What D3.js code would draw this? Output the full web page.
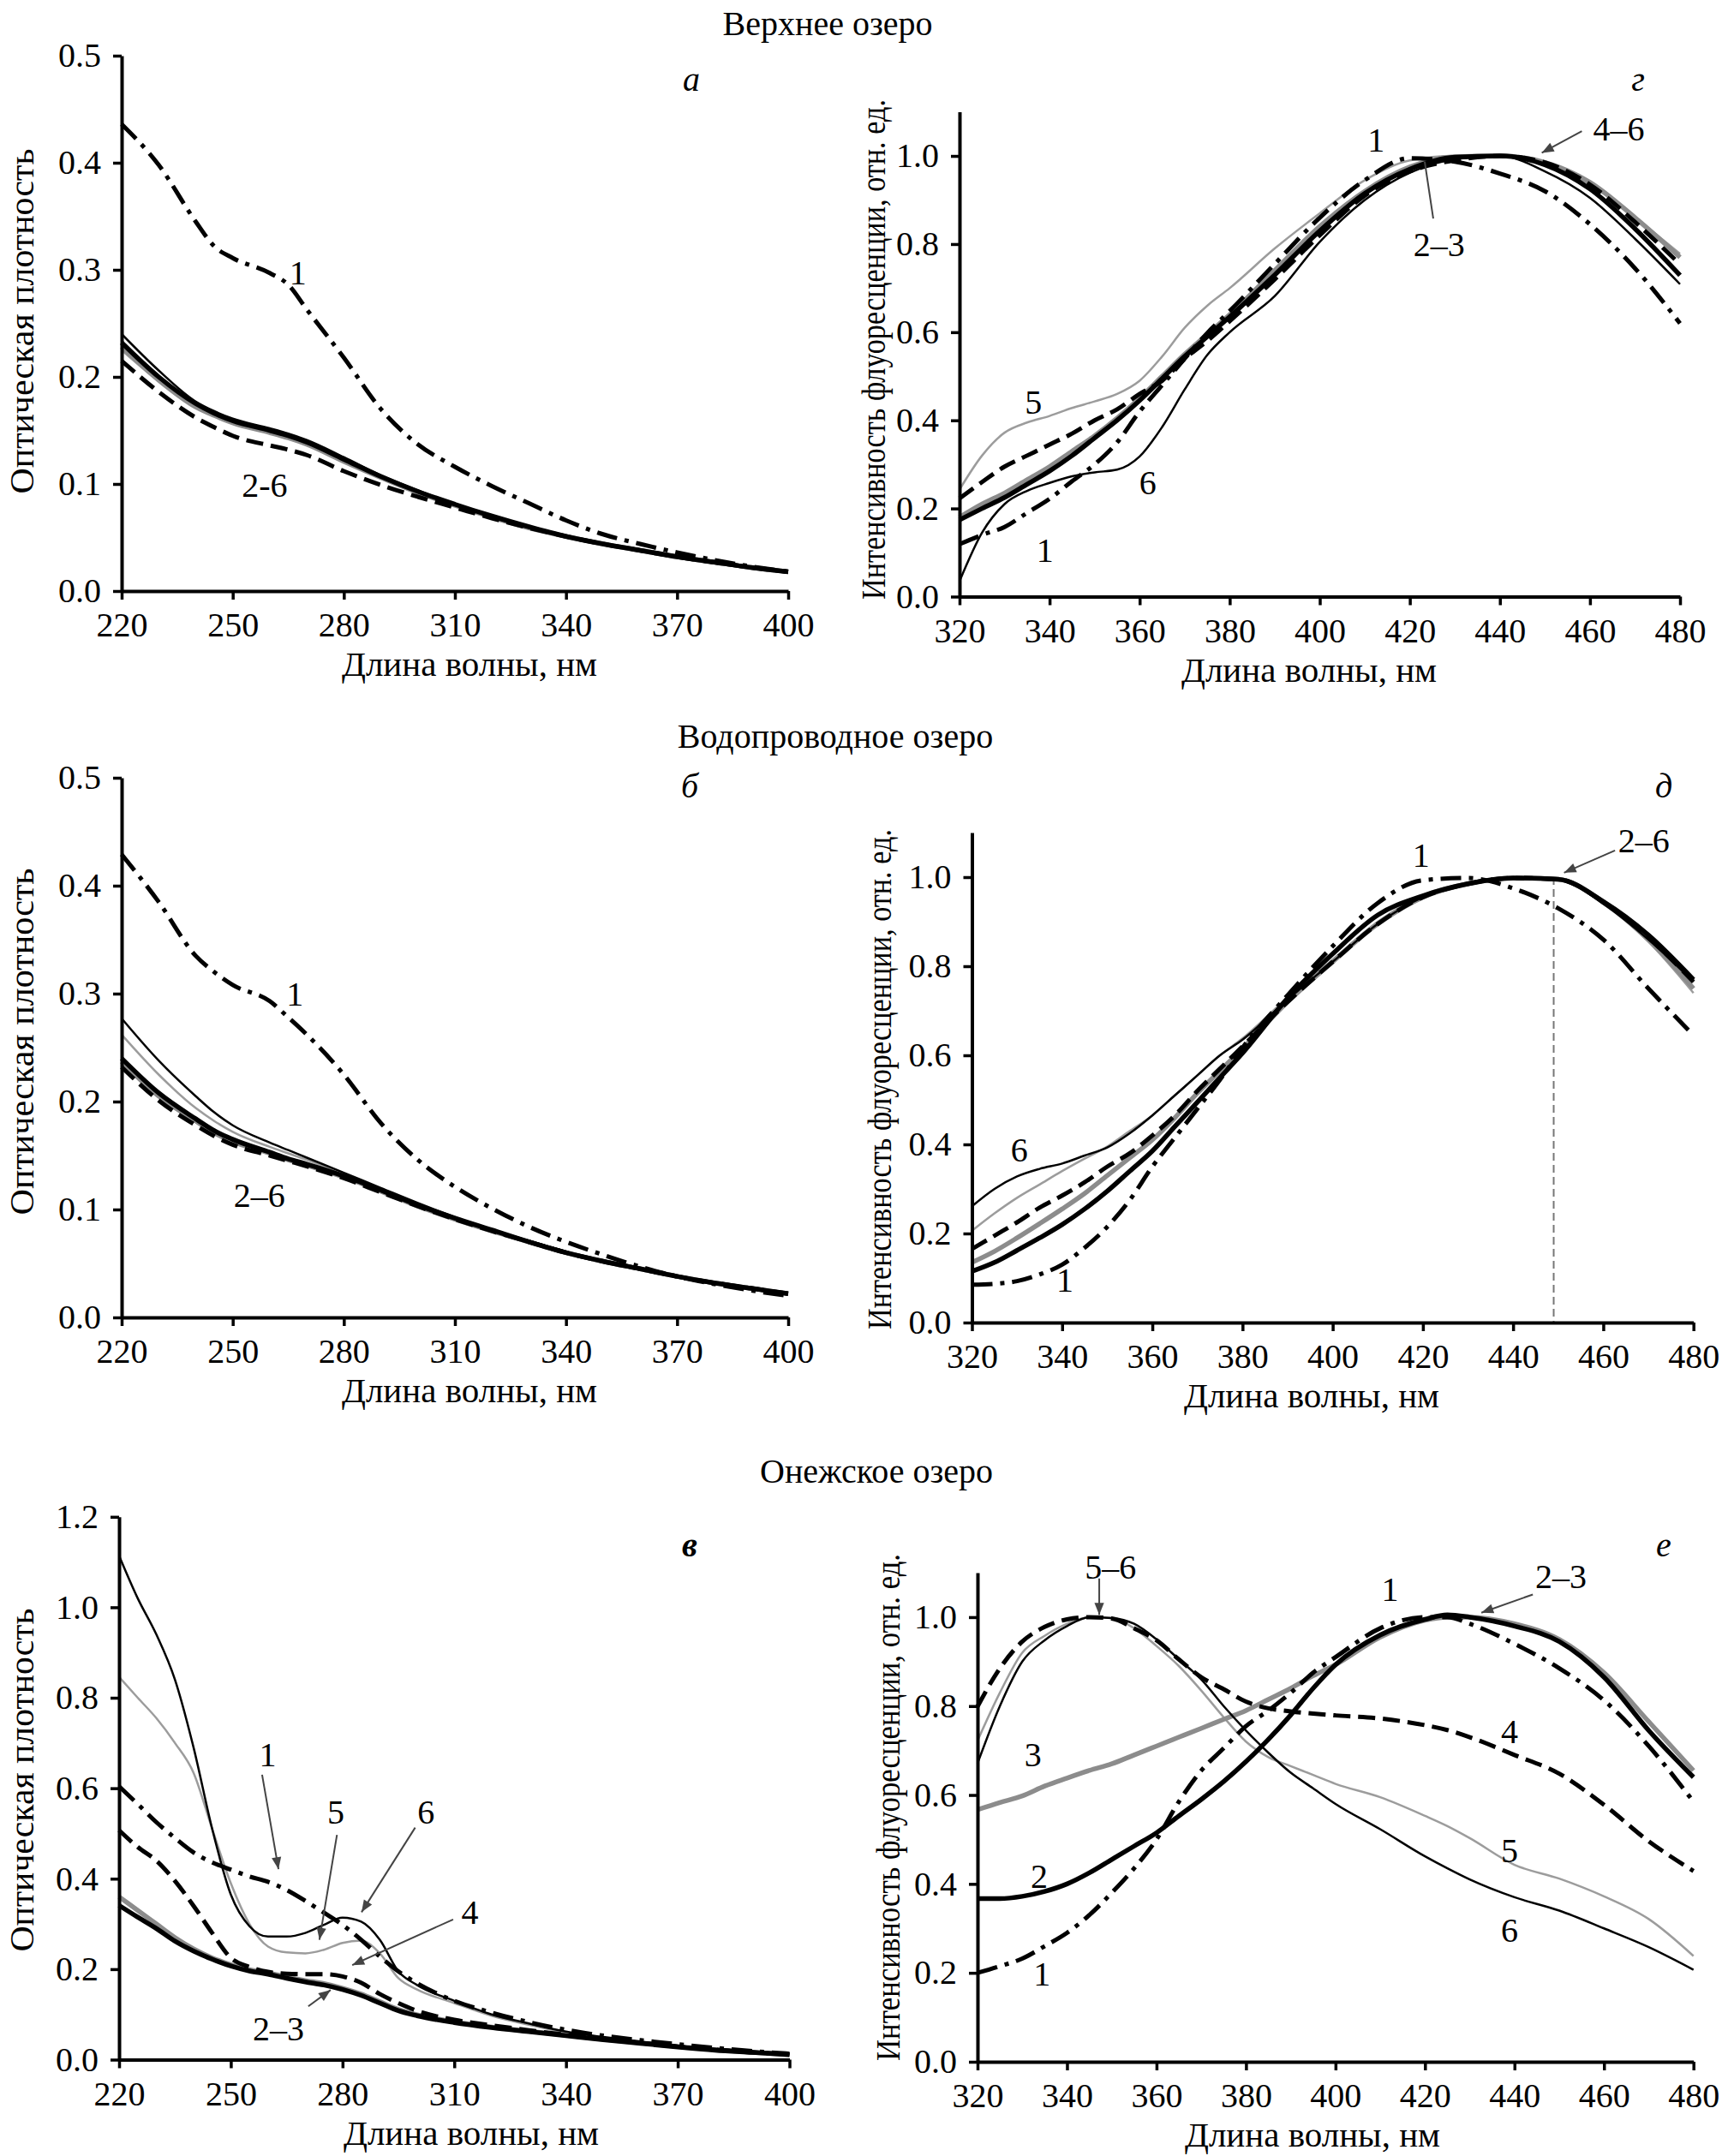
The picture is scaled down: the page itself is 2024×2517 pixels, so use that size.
<!DOCTYPE html>
<html>
<head>
<meta charset="utf-8" />
<script src="https://d3js.org/d3.v7.min.js"></script>
<style>
  body { margin: 0; background: #fff; }
  text { font-family: "Liberation Serif", "Times New Roman", serif; fill: #000; }
</style>
</head>
<body>
<svg id="chart" width="2024" height="2517"></svg>
<script>
// ---------- data ----------
// absorption spectra, wavelength grid (nm)
var wlAbsAB = [220,230,240,245,250,260,265,270,280,290,300,310,320,330,340,350,360,370,380,390,400];
// Верхнее озеро, absorption (panel а)
var absUp1 = [.436,.398,.345,.322,.311,.297,.286,.263,.218,.170,.137,.116,.098,.082,.066,.053,.044,.036,.029,.023,.018];
var absUp2 = [.232,.200,.175,.166,.159,.150,.145,.139,.123,.107,.093,.081,.070,.060,.051,.044,.038,.032,.027,.022,.018];
var absUp3 = [.228,.197,.172,.164,.157,.148,.143,.137,.121,.106,.092,.080,.069,.059,.051,.044,.038,.032,.027,.022,.018];
var absUp4 = [.215,.186,.162,.153,.145,.136,.132,.127,.112,.099,.088,.078,.068,.059,.051,.044,.038,.032,.027,.022,.018];
var absUp5 = [.225,.196,.172,.165,.158,.149,.144,.138,.122,.106,.092,.080,.069,.059,.051,.044,.038,.032,.027,.022,.018];
var absUp6 = [.240,.206,.177,.168,.161,.152,.147,.141,.125,.108,.094,.081,.070,.060,.051,.044,.038,.032,.027,.022,.018];
// Водопроводное озеро, absorption (panel б)
var absVod1 = [.429,.385,.335,.320,.308,.293,.278,.262,.225,.180,.146,.121,.101,.084,.070,.058,.047,.038,.031,.025,.020];
var absVod2 = [.240,.208,.184,.173,.165,.153,.147,.142,.131,.118,.104,.092,.081,.070,.060,.052,.045,.038,.032,.027,.022];
var absVod3 = [.237,.205,.182,.171,.163,.152,.146,.141,.130,.117,.103,.091,.080,.070,.060,.052,.045,.038,.032,.027,.022];
var absVod4 = [.232,.201,.178,.168,.160,.150,.145,.140,.129,.116,.103,.091,.080,.070,.060,.052,.045,.038,.032,.027,.022];
var absVod5 = [.262,.225,.194,.182,.172,.158,.152,.146,.132,.119,.105,.092,.081,.071,.061,.052,.045,.038,.032,.027,.022];
var absVod6 = [.277,.238,.205,.190,.178,.162,.155,.148,.134,.120,.106,.093,.081,.071,.061,.052,.045,.038,.032,.027,.022];
// Онежское озеро, absorption (panel в)
var wlAbsC = [220,225,230,235,240,245,250,255,260,265,270,275,280,285,290,295,300,310,320,330,340,350,360,370,380,390,400];
var absOn1 = [.604,.565,.525,.490,.458,.436,.420,.405,.393,.375,.351,.325,.298,.265,.228,.195,.169,.130,.104,.083,.066,.053,.043,.034,.026,.019,.013];
var absOn2 = [.341,.315,.290,.262,.240,.222,.207,.196,.189,.180,.172,.165,.155,.142,.125,.108,.097,.082,.071,.062,.053,.044,.036,.028,.021,.016,.011];
var absOn3 = [.360,.330,.300,.270,.245,.225,.210,.199,.192,.183,.175,.168,.158,.145,.128,.111,.099,.084,.072,.063,.054,.045,.037,.029,.022,.016,.011];
var absOn4 = [.507,.470,.440,.395,.340,.280,.225,.205,.194,.190,.189,.189,.184,.170,.145,.125,.108,.088,.076,.065,.055,.046,.037,.029,.022,.016,.012];
var absOn5 = [.846,.800,.755,.700,.634,.510,.390,.300,.250,.237,.235,.243,.258,.263,.235,.180,.155,.125,.097,.077,.060,.048,.038,.030,.023,.017,.012];
var absOn6 = [1.114,1.020,.940,.840,.690,.510,.365,.295,.272,.272,.280,.298,.314,.305,.265,.195,.165,.130,.100,.080,.062,.050,.040,.031,.024,.018,.013];

// fluorescence spectra
var wlFlAB = [320,325,330,335,340,345,350,355,360,365,370,375,380,390,400,410,420,430,440,450,460,470,480];
// Верхнее озеро (panel г)
var flUp1 = [.119,.140,.158,.190,.222,.262,.300,.350,.420,.480,.540,.598,.648,.755,.860,.945,.995,.987,.960,.920,.845,.745,.620];
var flUp2 = [.174,.200,.225,.255,.285,.320,.360,.400,.445,.495,.545,.590,.635,.730,.830,.915,.970,.997,1.00,.980,.925,.835,.729];
var flUp3 = [.180,.210,.235,.265,.295,.330,.365,.405,.450,.500,.550,.595,.640,.740,.840,.920,.975,.998,1.00,.985,.940,.860,.770];
var flUp4 = [.223,.260,.295,.320,.345,.370,.400,.425,.460,.490,.540,.580,.625,.720,.820,.910,.965,.990,1.00,.985,.935,.850,.754];
var flUp5 = [.243,.320,.372,.395,.410,.428,.443,.460,.490,.545,.610,.660,.700,.790,.870,.945,.990,1.00,1.00,.980,.935,.860,.778];
var flUp6 = [.035,.145,.210,.240,.258,.273,.282,.288,.318,.385,.470,.548,.600,.682,.805,.900,.962,.993,1.00,.965,.905,.812,.709];
// Водопроводное озеро (panel д)
var flVod1 = [.085,.087,.093,.108,.130,.168,.215,.275,.350,.415,.480,.545,.617,.735,.845,.942,.993,.998,.975,.930,.860,.750,.645];
var flVod2 = [.115,.135,.162,.190,.220,.255,.295,.340,.385,.440,.495,.550,.605,.728,.828,.915,.958,.985,.998,.995,.945,.870,.770];
var flVod3 = [.135,.160,.190,.222,.255,.290,.330,.370,.410,.460,.515,.565,.615,.720,.810,.895,.955,.985,.998,.995,.945,.860,.750];
var flVod4 = [.165,.195,.225,.258,.285,.315,.350,.380,.420,.465,.520,.570,.620,.720,.810,.895,.955,.985,.998,.995,.945,.865,.765];
var flVod5 = [.206,.245,.280,.310,.340,.368,.395,.430,.465,.510,.555,.600,.638,.730,.815,.900,.960,.988,.998,.995,.940,.855,.740];
var flVod6 = [.261,.300,.328,.345,.357,.375,.393,.425,.465,.510,.555,.600,.635,.725,.810,.895,.955,.985,.998,.995,.940,.860,.765];
// Онежское озеро (panel е)
var wlFlC = [320,325,330,335,340,345,350,355,360,365,370,375,380,385,390,395,400,410,420,425,430,440,450,460,470,480];
var flOn1 = [.200,.215,.232,.260,.290,.330,.380,.435,.500,.585,.655,.705,.755,.790,.830,.875,.910,.975,1.00,1.00,.985,.940,.885,.813,.710,.585];
var flOn2 = [.367,.367,.372,.383,.400,.425,.455,.485,.515,.553,.590,.630,.675,.725,.780,.840,.893,.960,.995,1.005,1.00,.980,.945,.865,.745,.640];
var flOn3 = [.567,.583,.598,.620,.638,.655,.670,.690,.710,.730,.750,.770,.790,.815,.840,.868,.893,.955,.993,1.00,1.00,.985,.950,.875,.765,.655];
var flOn4 = [.799,.885,.945,.978,.995,1.00,.997,.975,.948,.905,.865,.838,.810,.795,.788,.783,.779,.772,.757,.746,.730,.690,.648,.578,.496,.429];
var flOn5 = [.722,.830,.920,.958,.985,1.00,.998,.975,.935,.890,.835,.775,.720,.685,.665,.645,.625,.595,.553,.530,.503,.443,.412,.372,.321,.238];
var flOn6 = [.671,.800,.900,.948,.980,1.00,.998,.985,.950,.905,.860,.800,.745,.695,.650,.615,.580,.523,.462,.435,.410,.370,.340,.300,.258,.207];

// tick values
var ticksAbsX = [220,250,280,310,340,370,400];
var ticksFlX = [320,340,360,380,400,420,440,460,480];
var ticksAbsY = [0,0.1,0.2,0.3,0.4,0.5];
var ticksOnY = [0,0.2,0.4,0.6,0.8,1.0,1.2];
var ticksFlY = [0,0.2,0.4,0.6,0.8,1.0];

// texts
var lakeTitles = ["Верхнее озеро", "Водопроводное озеро", "Онежское озеро"];
var absYLabel = "Оптическая плотность";
var flYLabel = "Интенсивность флуоресценции, отн. ед.";
var xLabel = "Длина волны, нм";

// curve numbers and in-plot annotations (data coordinates)
var curveIds = [5, 3, 6, 2, 4, 1];
var notesA = [{t:"1", x:267.6, y:.297}, {t:"2-6", x:258.6, y:.099}];
var notesB = [{t:"1", x:266.8, y:.300}, {t:"2–6", x:257.2, y:.113}];
var notesC = [{t:"1", x:259.9, y:.675}, {t:"5", x:278.2, y:.548}, {t:"6", x:302.4, y:.548},
              {t:"4", x:314.2, y:.326}, {t:"2–3", x:262.8, y:.068}];
var arrowsC = [[258.4,.630,262.8,.421], [278.5,.497,273.8,.265], [299.5,.513,285.1,.326],
               [309.7,.310,282.6,.209], [270.8,.118,276.8,.154]];
var notesG = [{t:"1", x:412.5, y:1.037}, {t:"4–6", x:466.4, y:1.061}, {t:"2–3", x:426.5, y:.798},
              {t:"5", x:336.4, y:.442}, {t:"6", x:361.8, y:.258}, {t:"1", x:339, y:.104}];
var arrowsG = [[458.2,1.056,449.3,1.007]];
var linesG = [[425.2,.858,423.3,.987]];
var notesD = [{t:"1", x:419.6, y:1.050}, {t:"2–6", x:469, y:1.081}, {t:"6", x:330.5, y:.387}, {t:"1", x:340.6, y:.095}];
var arrowsD = [[462.6,1.060,451.3,1.010]];
var peakD = 449;
var notesE = [{t:"5–6", x:349.7, y:1.113}, {t:"1", x:412.2, y:1.062}, {t:"2–3", x:450.4, y:1.092},
              {t:"3", x:332.4, y:.691}, {t:"2", x:333.8, y:.418}, {t:"1", x:334.4, y:.197},
              {t:"4", x:438.9, y:.742}, {t:"5", x:438.9, y:.475}, {t:"6", x:438.9, y:.295}];
var arrowsE = [[347.2,1.087,347.2,1.005], [444.1,1.051,432.6,1.010]];

// ---------- styles ----------
var lineStyle = {
  1: {c:"#000", w:5, d:"24,9,5,9"},
  2: {c:"#000", w:5.5, d:null},
  3: {c:"#8c8c8c", w:5.5, d:null},
  4: {c:"#000", w:5, d:"20,9"},
  5: {c:"#9c9c9c", w:2.5, d:null},
  6: {c:"#000", w:2.5, d:null}
};

var svg = d3.select("#chart");
svg.append("rect").attr("width", 2024).attr("height", 2517).attr("fill", "#fff");

var defs = svg.append("defs");
defs.append("marker").attr("id", "arr")
  .attr("viewBox", "0 0 10 10").attr("refX", 10).attr("refY", 5)
  .attr("markerUnits", "userSpaceOnUse").attr("markerWidth", 20).attr("markerHeight", 14)
  .attr("orient", "auto")
  .append("path").attr("d", "M0,1 L10,5 L0,9 Z").attr("fill", "#444");

// lake titles
var titlePos = [[966, 41], [975, 873], [1023, 1731]];
svg.selectAll(".lake").data(lakeTitles).enter().append("text")
  .attr("x", function(d, i) { return titlePos[i][0]; })
  .attr("y", function(d, i) { return titlePos[i][1]; })
  .attr("text-anchor", "middle").style("font-size", "40px")
  .text(function(d) { return d; });

var panels = [
  {wl: wlAbsAB, s: [absUp1,absUp2,absUp3,absUp4,absUp5,absUp6], px: [142, 920], py: [690, 65],
   xd: [220, 400], yd: [0, 0.5], xt: ticksAbsX, yt: ticksAbsY, letter: "а", lp: [807, 92],
   ylab: absYLabel, ylx: 39, yly: 375, ylen: 403, xlx: 548, notes: notesA},
  {wl: wlFlAB, s: [flUp1,flUp2,flUp3,flUp4,flUp5,flUp6], px: [1120, 1961], py: [696.5, 130.6],
   xd: [320, 480], yd: [0, 1.1], xt: ticksFlX, yt: ticksFlY, letter: "г", lp: [1912, 92],
   ylab: flYLabel, ylx: 1033, yly: 408, ylen: 584, xlx: 1528, notes: notesG, arrows: arrowsG, lines: linesG},
  {wl: wlAbsAB, s: [absVod1,absVod2,absVod3,absVod4,absVod5,absVod6], px: [142, 920], py: [1538, 908],
   xd: [220, 400], yd: [0, 0.5], xt: ticksAbsX, yt: ticksAbsY, letter: "б", lp: [805, 917],
   ylab: absYLabel, ylx: 39, yly: 1216, ylen: 405, xlx: 548, notes: notesB},
  {wl: wlFlAB, s: [flVod1,flVod2,flVod3,flVod4,flVod5,flVod6], px: [1134.5, 1976.7], py: [1544, 972],
   xd: [320, 480], yd: [0, 1.1], xt: ticksFlX, yt: ticksFlY, letter: "д", lp: [1942, 917],
   ylab: flYLabel, ylx: 1040, yly: 1260, ylen: 584, xlx: 1531, notes: notesD, arrows: arrowsD, peak: peakD},
  {wl: wlAbsC, s: [absOn1,absOn2,absOn3,absOn4,absOn5,absOn6], px: [139, 921.5], py: [2404.5, 1770.8],
   xd: [220, 400], yd: [0, 1.2], xt: ticksAbsX, yt: ticksOnY, letter: "в", lp: [805, 1803], bold: true,
   ylab: absYLabel, ylx: 39, yly: 2078, ylen: 401, xlx: 550, notes: notesC, arrows: arrowsC},
  {wl: wlFlC, s: [flOn1,flOn2,flOn3,flOn4,flOn5,flOn6], px: [1141, 1976.7], py: [2407, 1836],
   xd: [320, 480], yd: [0, 1.1], xt: ticksFlX, yt: ticksFlY, letter: "е", lp: [1942, 1803],
   ylab: flYLabel, ylx: 1050, yly: 2110, ylen: 592, xlx: 1532, notes: notesE, arrows: arrowsE}
];

panels.forEach(function(p) {
  var x = d3.scaleLinear().domain(p.xd).range(p.px);
  var y = d3.scaleLinear().domain(p.yd).range(p.py);
  var g = svg.append("g");

  // peak marker (dashed vertical line)
  if (p.peak) {
    g.append("line")
      .attr("x1", x(p.peak)).attr("x2", x(p.peak))
      .attr("y1", y(1.0)).attr("y2", y(0))
      .attr("stroke", "#777").attr("stroke-width", 2).attr("stroke-dasharray", "9,5");
  }

  // curves
  var line = d3.line()
    .x(function(d) { return x(d[0]); })
    .y(function(d) { return y(d[1]); })
    .curve(d3.curveMonotoneX);
  curveIds.forEach(function(id) {
    var vals = p.s[id - 1];
    var pts = p.wl.map(function(w, i) { return [w, vals[i]]; });
    var st = lineStyle[id];
    g.append("path").datum(pts)
      .attr("d", line)
      .attr("fill", "none")
      .attr("stroke", st.c)
      .attr("stroke-width", st.w)
      .attr("stroke-linejoin", "round")
      .attr("stroke-dasharray", st.d);
  });

  // axes
  var xa = g.append("g").attr("transform", "translate(0," + p.py[0] + ")")
    .call(d3.axisBottom(x).tickValues(p.xt).tickSize(10).tickSizeOuter(0).tickPadding(15)
      .tickFormat(d3.format("d")));
  var ya = g.append("g").attr("transform", "translate(" + p.px[0] + ",0)")
    .call(d3.axisLeft(y).tickValues(p.yt).tickSize(10).tickSizeOuter(0).tickPadding(14)
      .tickFormat(d3.format(".1f")));
  [xa, ya].forEach(function(a) {
    a.select(".domain").attr("stroke", "#000").attr("stroke-width", 4);
    a.selectAll(".tick line").attr("stroke", "#000").attr("stroke-width", 3.5);
    a.selectAll(".tick text").style("font-size", "40px")
      .style("font-family", "'Liberation Serif', 'Times New Roman', serif");
  });

  // axis titles
  g.append("text")
    .attr("x", p.xlx).attr("y", p.py[0] + 99)
    .attr("text-anchor", "middle").style("font-size", "41px")
    .text(xLabel);
  g.append("text")
    .attr("transform", "translate(" + p.ylx + "," + p.yly + ") rotate(-90)")
    .attr("text-anchor", "middle")
    .attr("textLength", p.ylen).attr("lengthAdjust", "spacingAndGlyphs")
    .style("font-size", "41px")
    .text(p.ylab);

  // panel letter
  g.append("text")
    .attr("x", p.lp[0]).attr("y", p.lp[1])
    .attr("text-anchor", "middle").attr("dominant-baseline", "central")
    .style("font-size", "40px").style("font-style", "italic")
    .style("font-weight", p.bold ? "bold" : "normal")
    .text(p.letter);

  // arrows and leader lines
  (p.arrows || []).forEach(function(a) {
    g.append("line")
      .attr("x1", x(a[0])).attr("y1", y(a[1]))
      .attr("x2", x(a[2])).attr("y2", y(a[3]))
      .attr("stroke", "#444").attr("stroke-width", 2)
      .attr("marker-end", "url(#arr)");
  });
  (p.lines || []).forEach(function(a) {
    g.append("line")
      .attr("x1", x(a[0])).attr("y1", y(a[1]))
      .attr("x2", x(a[2])).attr("y2", y(a[3]))
      .attr("stroke", "#444").attr("stroke-width", 2);
  });

  // curve numbers
  g.selectAll(".note").data(p.notes).enter().append("text")
    .attr("x", function(d) { return x(d.x); })
    .attr("y", function(d) { return y(d.y); })
    .attr("text-anchor", "middle").attr("dominant-baseline", "central")
    .style("font-size", "40px")
    .text(function(d) { return d.t; });
});
</script>
</body>
</html>
